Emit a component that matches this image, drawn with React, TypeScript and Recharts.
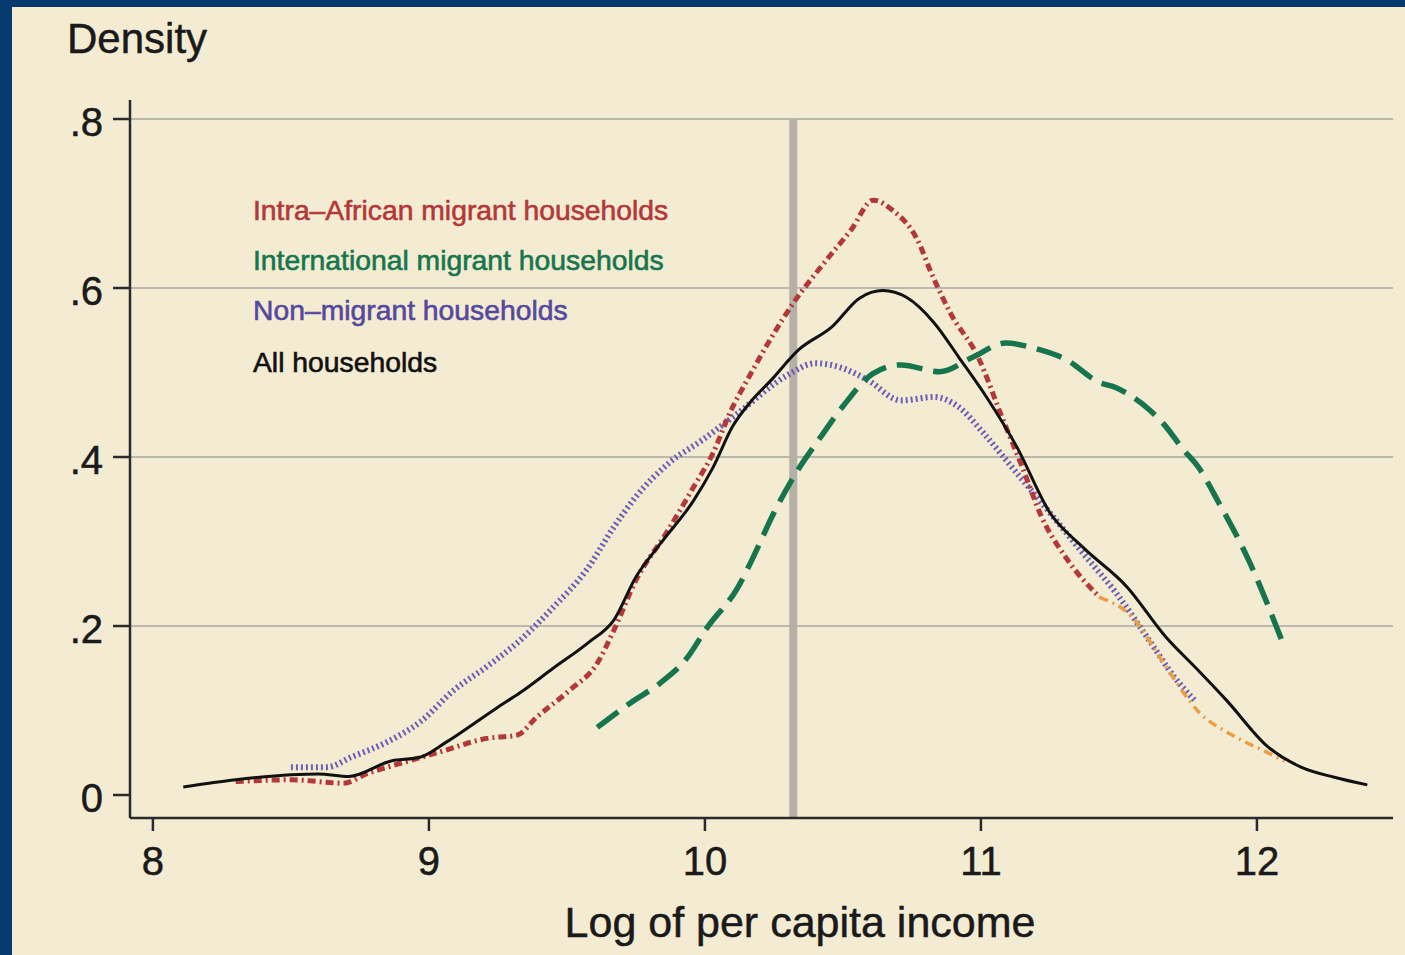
import React from "react";
import { LineChart, Line, XAxis, YAxis, ReferenceLine } from "recharts";

// ---- data ----
const xTicks = [8, 9, 10, 11, 12];
const yTicks = [0, 0.2, 0.4, 0.6, 0.8];
const yTickLabels = ["0", ".2", ".4", ".6", ".8"];
const gridValues = [0.2, 0.4, 0.6, 0.8];
const medianLine = 10.32;

const seriesNames = [
  "Intra\u2013African migrant households",
  "International migrant households",
  "Non\u2013migrant households",
  "All households",
];

const allX = [8.11, 8.3, 8.5, 8.6, 8.71, 8.86, 8.97, 9.06, 9.25, 9.33, 9.45, 9.58, 9.67, 9.75, 9.84, 9.96, 10.03, 10.1, 10.17, 10.24, 10.34, 10.46, 10.56, 10.645, 10.73, 10.83, 10.92, 11.02, 11.13, 11.25, 11.37, 11.53, 11.67, 11.78, 11.89, 12.04, 12.16, 12.28, 12.4];
const allY = [0.0095, 0.018, 0.024, 0.025, 0.022, 0.04, 0.045, 0.062, 0.104, 0.121, 0.15, 0.181, 0.207, 0.258, 0.298, 0.349, 0.388, 0.436, 0.467, 0.491, 0.527, 0.554, 0.588, 0.597, 0.589, 0.559, 0.518, 0.471, 0.412, 0.334, 0.293, 0.246, 0.187, 0.15, 0.112, 0.057, 0.033, 0.021, 0.012];

const intraX = [8.3, 8.5, 8.69, 8.78, 8.85, 9.04, 9.21, 9.32, 9.39, 9.51, 9.61, 9.67, 9.75, 9.86, 9.96, 10.03, 10.09, 10.16, 10.32, 10.44, 10.53, 10.61, 10.68, 10.77, 10.82, 10.89, 10.99, 11.08, 11.15, 11.22, 11.31, 11.43];
const intraY = [0.016, 0.018, 0.014, 0.026, 0.033, 0.051, 0.067, 0.071, 0.092, 0.124, 0.156, 0.195, 0.254, 0.31, 0.365, 0.405, 0.452, 0.495, 0.582, 0.633, 0.669, 0.704, 0.692, 0.657, 0.618, 0.57, 0.518, 0.444, 0.388, 0.329, 0.28, 0.234];

const tailX = [11.43, 11.55, 11.67, 11.79, 11.91, 12.04, 12.1];
const tailY = [0.234, 0.21, 0.152, 0.098, 0.071, 0.05, 0.04];

const nonX = [8.5, 8.63, 8.72, 8.85, 8.97, 9.09, 9.21, 9.33, 9.45, 9.57, 9.67, 9.75, 9.87, 9.99, 10.12, 10.3, 10.4, 10.5, 10.59, 10.71, 10.83, 10.92, 11.01, 11.13, 11.25, 11.37, 11.49, 11.61, 11.7, 11.78];
const nonY = [0.033, 0.033, 0.045, 0.063, 0.087, 0.124, 0.152, 0.183, 0.222, 0.266, 0.317, 0.353, 0.393, 0.42, 0.452, 0.497, 0.511, 0.505, 0.491, 0.467, 0.471, 0.459, 0.428, 0.381, 0.334, 0.286, 0.239, 0.183, 0.14, 0.11];

const intlX = [9.61, 9.73, 9.84, 9.93, 10.01, 10.12, 10.17, 10.25, 10.33, 10.42, 10.5, 10.61, 10.71, 10.85, 10.97, 11.09, 11.19, 11.31, 11.43, 11.49, 11.55, 11.61, 11.67, 11.73, 11.79, 11.86, 11.97, 12.09];
const intlY = [0.08, 0.109, 0.133, 0.16, 0.199, 0.246, 0.278, 0.334, 0.381, 0.424, 0.46, 0.499, 0.509, 0.501, 0.518, 0.535, 0.529, 0.515, 0.488, 0.482, 0.471, 0.456, 0.436, 0.41, 0.387, 0.347, 0.278, 0.183];

const zip = (xs: number[], ys: number[]) => xs.map((x, i) => ({ x, y: ys[i] }));
const allData = zip(allX, allY);
const intraData = zip(intraX, intraY);
const tailData = zip(tailX, tailY);
const nonData = zip(nonX, nonY);
const intlData = zip(intlX, intlY);

const Y_MIN = -0.0272;
const Y_MAX = 0.8225;

// ---- styles ----
const FONT = "'Liberation Sans', Arial, Helvetica, sans-serif";
const BG = "#f4ecd2";
const FRAME = "#063a6e";
const AXIS = "#2a2a2a";
const GRID = "#bcb8ae";
const C_INTRA = "#b2383a";
const C_INTL = "#17754e";
const C_NON = "#6c5fb4";
const C_NON_TEXT = "#54489f";
const C_ALL = "#111111";
const C_TAIL = "#eb9d45";
const TEXT = "#1a1a1a";

const XTick = (props: any) => {
  const { x, y, payload } = props;
  return (
    <text x={x} y={y} dy={44} textAnchor="middle" fontSize={40} fontFamily={FONT} fill={TEXT} stroke={TEXT} strokeWidth={0.5}>
      {payload.value}
    </text>
  );
};

const YTick = (props: any) => {
  const { x, y, payload } = props;
  const idx = yTicks.indexOf(payload.value);
  return (
    <text x={x} y={y} dy={17} textAnchor="end" fontSize={40} fontFamily={FONT} fill={TEXT} stroke={TEXT} strokeWidth={0.5}>
      {idx >= 0 ? yTickLabels[idx] : payload.value}
    </text>
  );
};

const legendColors = [C_INTRA, C_INTL, C_NON_TEXT, C_ALL];
const legendBaselines = [220, 270, 320, 372];

export default function App() {
  return (
    <div style={{ position: "absolute", left: 0, top: 0, width: 1405, height: 955, background: FRAME, overflow: "hidden" }}>
      <div style={{ position: "absolute", left: 12, top: 7, right: 0, bottom: 0, background: BG }} />
      <div style={{ position: "absolute", left: 0, top: 0 }}>
        <LineChart width={1405} height={955} margin={{ top: 100, right: 12, left: 12, bottom: 37 }}>
          <XAxis
            type="number"
            dataKey="x"
            domain={[7.917, 12.493]}
            ticks={xTicks}
            allowDataOverflow
            height={100}
            axisLine={{ stroke: AXIS, strokeWidth: 2.5 }}
            tickLine={{ stroke: AXIS, strokeWidth: 2.5 }}
            tickSize={13}
            tickMargin={0}
            tick={<XTick />}
          />
          <YAxis
            type="number"
            dataKey="y"
            domain={[Y_MIN, Y_MAX]}
            ticks={yTicks}
            allowDataOverflow
            width={118}
            axisLine={{ stroke: AXIS, strokeWidth: 2.5 }}
            tickLine={{ stroke: AXIS, strokeWidth: 2.5 }}
            tickSize={17}
            tickMargin={10}
            tick={<YTick />}
          />
          {gridValues.map((g) => (
            <ReferenceLine key={g} y={g} stroke={GRID} strokeWidth={2} />
          ))}
          <ReferenceLine
            segment={[{ x: medianLine, y: Y_MIN }, { x: medianLine, y: 0.8 }]}
            stroke="#b6b1a6"
            strokeWidth={8}
          />
          <Line data={nonData} dataKey="y" type="monotone" stroke={C_NON} strokeWidth={6} strokeDasharray="2 3" dot={false} isAnimationActive={false} />
          <Line data={tailData} dataKey="y" type="monotone" stroke={C_TAIL} strokeWidth={3.5} strokeDasharray="9 5 2 5" dot={false} isAnimationActive={false} />
          <Line data={intraData} dataKey="y" type="monotone" stroke={C_INTRA} strokeWidth={5} strokeDasharray="8 4 2 4" dot={false} isAnimationActive={false} />
          <Line data={intlData} dataKey="y" type="monotone" stroke={C_INTL} strokeWidth={5.5} strokeDasharray="26 11" dot={false} isAnimationActive={false} />
          <Line data={allData} dataKey="y" type="monotone" stroke={C_ALL} strokeWidth={3} dot={false} isAnimationActive={false} />
        </LineChart>
      </div>
      <svg width={1405} height={955} style={{ position: "absolute", left: 0, top: 0, pointerEvents: "none" }}>
        <text x={67} y={53} fontSize={42} fontFamily={FONT} fill={TEXT} stroke={TEXT} strokeWidth={0.5}>Density</text>
        <text x={800} y={937} textAnchor="middle" fontSize={43} fontFamily={FONT} fill={TEXT} stroke={TEXT} strokeWidth={0.5}>Log of per capita income</text>
        {seriesNames.map((name, i) => (
          <text key={name} x={253} y={legendBaselines[i]} fontSize={28.3} fontFamily={FONT} fill={legendColors[i]} stroke={legendColors[i]} strokeWidth={0.6}>
            {name}
          </text>
        ))}
      </svg>
    </div>
  );
}
